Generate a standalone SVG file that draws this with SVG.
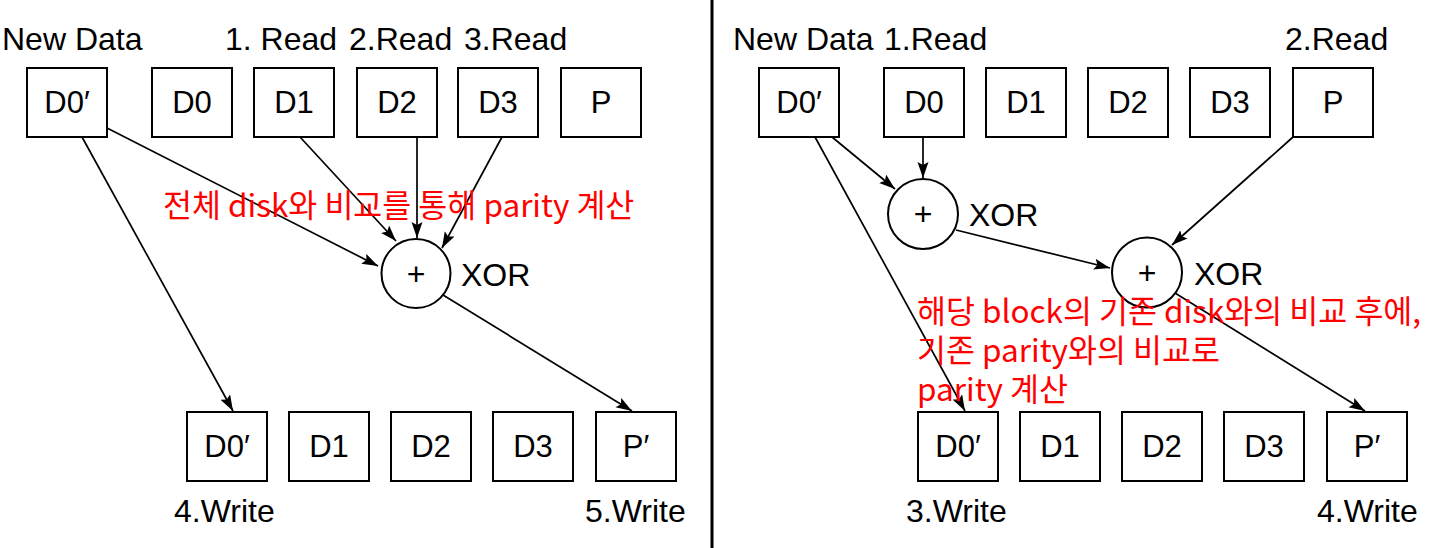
<svg xmlns="http://www.w3.org/2000/svg" width="1429" height="548" viewBox="0 0 1429 548">
<style>
.box{fill:#fff;stroke:#000;stroke-width:2}
.op{fill:#fff;stroke:#000;stroke-width:2}
.t{font-family:"Liberation Sans",Arial,sans-serif;font-size:32px;fill:#000}
.bt{font-family:"Liberation Sans",Arial,sans-serif;font-size:31px;fill:#000;text-anchor:middle}
.pl{font-family:"Liberation Sans",Arial,sans-serif;font-size:32px;fill:#000;text-anchor:middle}
.c{fill:none;stroke:#000;stroke-width:1.7;marker-end:url(#ah)}
.red{font-family:"Noto Sans CJK KR","Noto Sans",sans-serif;font-size:31.5px;fill:#ff0000}
</style>
<defs>
<marker id="ah" markerUnits="userSpaceOnUse" markerWidth="17" markerHeight="12" refX="16" refY="5.5" orient="auto">
<path d="M0,0 L16,5.5 L0,11 L3,5.5 Z" fill="#000"/>
</marker>
</defs>
<rect width="1429" height="548" fill="#fff"/>
<line x1="712" y1="0" x2="712" y2="548" stroke="#000" stroke-width="3"/>

<g id="labels">
<text class="t" x="2" y="50">New Data</text>
<text class="t" x="225" y="50">1. Read</text>
<text class="t" x="349" y="50">2.Read</text>
<text class="t" x="464" y="50">3.Read</text>
<text class="t" x="174" y="522">4.Write</text>
<text class="t" x="585" y="522">5.Write</text>
<text class="t" x="733" y="50">New Data</text>
<text class="t" x="884" y="50">1.Read</text>
<text class="t" x="1285" y="50">2.Read</text>
<text class="t" x="906" y="522">3.Write</text>
<text class="t" x="1317" y="522">4.Write</text>
</g>

<g id="connectors">
<line class="c" x1="107" y1="128" x2="378" y2="266"/>
<line class="c" x1="82" y1="137" x2="233" y2="411"/>
<line class="c" x1="300" y1="137" x2="396" y2="241"/>
<line class="c" x1="417" y1="137" x2="417" y2="238"/>
<line class="c" x1="502" y1="137" x2="442" y2="248"/>
<line class="c" x1="443" y1="295" x2="632" y2="411"/>
<line class="c" x1="815" y1="137" x2="965" y2="411"/>
<line class="c" x1="832" y1="137" x2="895" y2="189"/>
<line class="c" x1="923" y1="137" x2="923" y2="178"/>
<line class="c" x1="956" y1="230" x2="1110" y2="268"/>
<line class="c" x1="1293" y1="137" x2="1172" y2="245"/>
<line class="c" x1="1175" y1="293" x2="1365" y2="411"/>
</g>

<g id="L-top-D0p"><rect class="box" x="27" y="68" width="80" height="69"/><text class="bt" x="67" y="113">D0′</text></g>
<g id="L-top-D0"><rect class="box" x="152" y="68" width="80" height="69"/><text class="bt" x="192" y="113">D0</text></g>
<g id="L-top-D1"><rect class="box" x="254" y="68" width="80" height="69"/><text class="bt" x="294" y="113">D1</text></g>
<g id="L-top-D2"><rect class="box" x="357" y="68" width="80" height="69"/><text class="bt" x="397" y="113">D2</text></g>
<g id="L-top-D3"><rect class="box" x="458" y="68" width="80" height="69"/><text class="bt" x="498" y="113">D3</text></g>
<g id="L-top-P"><rect class="box" x="561" y="68" width="80" height="69"/><text class="bt" x="601" y="113">P</text></g>

<g id="L-xor"><circle class="op" cx="416" cy="273.5" r="34.5"/><text class="pl" x="416" y="285">+</text><text class="t" x="461" y="286">XOR</text></g>

<g id="L-bot-D0p"><rect class="box" x="187" y="412" width="80" height="69"/><text class="bt" x="227" y="457">D0′</text></g>
<g id="L-bot-D1"><rect class="box" x="289" y="412" width="80" height="69"/><text class="bt" x="329" y="457">D1</text></g>
<g id="L-bot-D2"><rect class="box" x="391" y="412" width="80" height="69"/><text class="bt" x="431" y="457">D2</text></g>
<g id="L-bot-D3"><rect class="box" x="493" y="412" width="80" height="69"/><text class="bt" x="533" y="457">D3</text></g>
<g id="L-bot-Pp"><rect class="box" x="596" y="412" width="80" height="69"/><text class="bt" x="636" y="457">P′</text></g>

<g id="R-top-D0p"><rect class="box" x="759" y="68" width="80" height="69"/><text class="bt" x="799" y="113">D0′</text></g>
<g id="R-top-D0"><rect class="box" x="884" y="68" width="80" height="69"/><text class="bt" x="924" y="113">D0</text></g>
<g id="R-top-D1"><rect class="box" x="986" y="68" width="80" height="69"/><text class="bt" x="1026" y="113">D1</text></g>
<g id="R-top-D2"><rect class="box" x="1088" y="68" width="80" height="69"/><text class="bt" x="1128" y="113">D2</text></g>
<g id="R-top-D3"><rect class="box" x="1190" y="68" width="80" height="69"/><text class="bt" x="1230" y="113">D3</text></g>
<g id="R-top-P"><rect class="box" x="1293" y="68" width="80" height="69"/><text class="bt" x="1333" y="113">P</text></g>

<g id="R-xor1"><circle class="op" cx="923" cy="214" r="35"/><text class="pl" x="923" y="225">+</text><text class="t" x="969" y="226">XOR</text></g>
<g id="R-xor2"><circle class="op" cx="1147" cy="272.5" r="35"/><text class="pl" x="1147" y="284">+</text><text class="t" x="1194" y="285">XOR</text></g>

<g id="R-bot-D0p"><rect class="box" x="918" y="412" width="80" height="69"/><text class="bt" x="958" y="457">D0′</text></g>
<g id="R-bot-D1"><rect class="box" x="1020" y="412" width="80" height="69"/><text class="bt" x="1060" y="457">D1</text></g>
<g id="R-bot-D2"><rect class="box" x="1122" y="412" width="80" height="69"/><text class="bt" x="1162" y="457">D2</text></g>
<g id="R-bot-D3"><rect class="box" x="1224" y="412" width="80" height="69"/><text class="bt" x="1264" y="457">D3</text></g>
<g id="R-bot-Pp"><rect class="box" x="1327" y="412" width="80" height="69"/><text class="bt" x="1367" y="457">P′</text></g>

<g id="notes">
<text class="red" x="163" y="217">전체 disk와 비교를 통해 parity 계산</text>
<text class="red" x="917" y="323">해당 block의 기존 disk와의 비교 후에,</text>
<text class="red" x="917" y="362">기존 parity와의 비교로</text>
<text class="red" x="917" y="401">parity 계산</text>
</g>
</svg>
